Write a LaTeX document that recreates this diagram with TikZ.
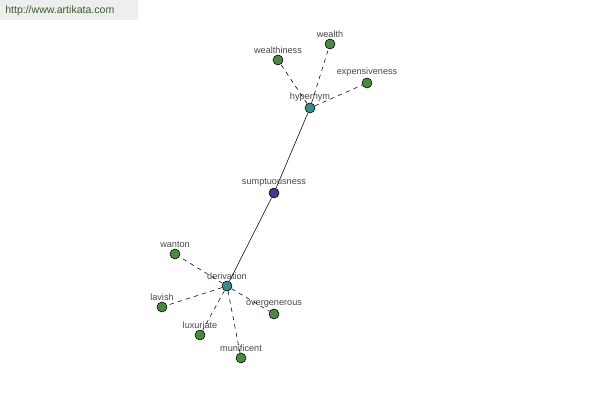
\documentclass[tikz,border=0pt]{standalone}
\usepackage{fontspec}
\setmainfont{Liberation Sans}
\usetikzlibrary{positioning}

\definecolor{leafgreen}{RGB}{74,138,62}
\definecolor{relteal}{RGB}{58,140,140}
\definecolor{rootblue}{RGB}{60,60,140}
\definecolor{markgray}{RGB}{238,238,238}
\definecolor{marktext}{RGB}{60,90,40}
\definecolor{labelgray}{RGB}{70,70,70}

\begin{document}
\begin{tikzpicture}[
    x=0.025cm, y=-0.025cm,
    word/.style={circle, draw, fill=leafgreen, inner sep=0pt, minimum size=0.25cm, label distance=0.3pt,
        label={[font=\fontsize{6.5}{7.5}\selectfont, text=labelgray, inner sep=0.5pt]above:#1}},
    relation/.style={word=#1, fill=relteal},
    root/.style={word=#1, fill=rootblue},
    link/.style={thin, dash pattern=on 3pt off 3pt},
    main/.style={thin}
]
\useasboundingbox (0,0) rectangle (600,400);
\fill[markgray] (0,0) rectangle (138,20);
\node[anchor=west, font=\fontsize{7.5}{9}\selectfont, text=marktext, inner sep=0pt] (site) at (5,11) {http://www.artikata.com};

% the word and its two relations
\node[root=sumptuousness] (sump) at (274,193) {};
\node[relation=hypernym] (hyper) at (310,108) {};
\node[relation=derivation] (deriv) at (227,286) {};

% hypernym side
\node[word=wealthiness] (wealthiness) at (278,60) {};
\node[word=wealth] (wealth) at (330,44) {};
\node[word=expensiveness] (expens) at (367,83) {};

% derivation side
\node[word=wanton] (wanton) at (175,254) {};
\node[word=lavish] (lavish) at (162,307) {};
\node[word=luxuriate] (luxuriate) at (200,335) {};
\node[word=munificent] (munif) at (241,358) {};
\node[word=overgenerous] (overgen) at (274,314) {};

\draw[main] (sump) -- (hyper);
\draw[main] (sump) -- (deriv);
\draw[link] (hyper) -- (wealthiness);
\draw[link] (hyper) -- (wealth);
\draw[link] (hyper) -- (expens);
\draw[link] (deriv) -- (wanton);
\draw[link] (deriv) -- (lavish);
\draw[link] (deriv) -- (luxuriate);
\draw[link] (deriv) -- (munif);
\draw[link] (deriv) -- (overgen);

\end{tikzpicture}
\end{document}
